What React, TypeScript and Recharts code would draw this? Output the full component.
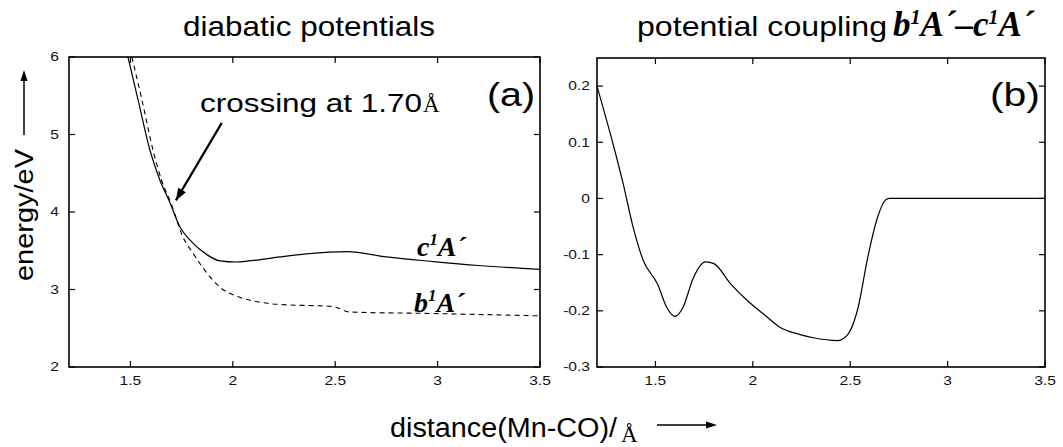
import React from 'react';
import { LineChart, Line, XAxis, YAxis, ReferenceLine } from 'recharts';

// Mn-CO distance (Å) and diabatic energies (eV)
const distTicks = [1.5, 2, 2.5, 3, 3.5];
const energyTicks = [2, 3, 4, 5, 6];
const couplingTicks = [-0.3, -0.2, -0.1, 0, 0.1, 0.2];

const cStateDist = [1.488, 1.537, 1.595, 1.644, 1.693, 1.741, 1.79, 1.873, 1.937, 2.02, 2.117, 2.23, 2.36, 2.56, 2.75, 2.98, 3.2, 3.5];
const cStateEnergy = [6.0, 5.45, 4.8, 4.41, 4.12, 3.81, 3.64, 3.45, 3.37, 3.355, 3.38, 3.42, 3.46, 3.49, 3.42, 3.36, 3.31, 3.26];

const bStateDist = [1.507, 1.556, 1.61, 1.652, 1.70, 1.756, 1.805, 1.854, 1.937, 2.034, 2.146, 2.278, 2.42, 2.49, 2.57, 2.98, 3.5];
const bStateEnergy = [6.0, 5.45, 4.8, 4.41, 4.1, 3.68, 3.47, 3.28, 3.03, 2.9, 2.83, 2.8, 2.79, 2.78, 2.71, 2.69, 2.66];

// b1A' - c1A' potential coupling (eV)
const couplingDist = [1.2, 1.28, 1.334, 1.386, 1.437, 1.51, 1.56, 1.6, 1.64, 1.695, 1.757, 1.8, 1.886, 1.973, 2.056, 2.143, 2.23, 2.31, 2.437, 2.49, 2.54, 2.59, 2.64, 2.68, 2.7, 3.5];
const couplingValue = [0.2, 0.1, 0.027, -0.052, -0.11, -0.152, -0.195, -0.21, -0.195, -0.141, -0.113, -0.116, -0.152, -0.182, -0.206, -0.23, -0.241, -0.248, -0.253, -0.241, -0.195, -0.105, -0.034, -0.003, 0, 0];

const cData = cStateDist.map((r, i) => ({ r, e: cStateEnergy[i] }));
const bData = bStateDist.map((r, i) => ({ r, e: bStateEnergy[i] }));
const couplingData = couplingDist.map((r, i) => ({ r, v: couplingValue[i] }));

const SANS = '"Liberation Sans", Arial, Helvetica, sans-serif';
const SERIF = '"Liberation Serif", "Times New Roman", serif';
const TICK_LEN = 6;
const X_DOMAIN = [1.2, 3.5];
const ENERGY_DOMAIN = [2, 6];
const COUPLING_DOMAIN = [-0.3, 0.25];

// plot boxes follow from the chart sizes/margins below
const LEFT_BOX = { x: 69, y: 57, w: 471, h: 310 };
const RIGHT_BOX = { x: 597, y: 58, w: 448, h: 309 };

const Tick = (props: any) => {
  const { x, y, payload, side } = props;
  return (
    <g transform={`translate(${x},${y}) scale(1.3,1)`}>
      <text
        x={0}
        y={0}
        textAnchor={side === 'left' ? 'end' : 'middle'}
        dominantBaseline="central"
        fontFamily={SANS}
        fontSize={12}
        fill="#111"
      >
        {payload.value}
      </text>
    </g>
  );
};

// boxed frame with inward ticks on all four sides
const Frame = ({ box, xd, yd, xTicks, yTicks }: any) => {
  const px = (v: number) => box.x + ((v - xd[0]) / (xd[1] - xd[0])) * box.w;
  const py = (v: number) => box.y + box.h - ((v - yd[0]) / (yd[1] - yd[0])) * box.h;
  return (
    <g stroke="#000" fill="none">
      <rect x={box.x} y={box.y} width={box.w} height={box.h} strokeWidth={1.6} />
      {xTicks.map((t: number) => (
        <g key={`x${t}`} strokeWidth={1.2}>
          <line x1={px(t)} y1={box.y} x2={px(t)} y2={box.y + TICK_LEN} />
          <line x1={px(t)} y1={box.y + box.h} x2={px(t)} y2={box.y + box.h - TICK_LEN} />
        </g>
      ))}
      {yTicks.map((t: number) => (
        <g key={`y${t}`} strokeWidth={1.2}>
          <line x1={box.x} y1={py(t)} x2={box.x + TICK_LEN} y2={py(t)} />
          <line x1={box.x + box.w} y1={py(t)} x2={box.x + box.w - TICK_LEN} y2={py(t)} />
        </g>
      ))}
    </g>
  );
};

const arrowHead = (x1: number, y1: number, x2: number, y2: number, len = 10, half = 4) => {
  const a = Math.atan2(y2 - y1, x2 - x1);
  const bx = x2 - len * Math.cos(a);
  const by = y2 - len * Math.sin(a);
  const px = -Math.sin(a) * half;
  const py = Math.cos(a) * half;
  return `${x2},${y2} ${bx + px},${by + py} ${bx - px},${by - py}`;
};

const ArrowShape = (props: any) => {
  const { x1, y1, x2, y2 } = props;
  return (
    <g>
      <line x1={x1} y1={y1} x2={x2} y2={y2} stroke="#000" strokeWidth={2.2} />
      <polygon points={arrowHead(x1, y1, x2, y2, 12, 4.5)} fill="#000" />
    </g>
  );
};

const PotentialsPanel = () => (
  <LineChart width={560} height={447} margin={{ top: 57, right: 20, bottom: 50, left: 29 }}>
    <XAxis
      type="number"
      dataKey="r"
      domain={X_DOMAIN}
      ticks={distTicks}
      allowDataOverflow
      height={30}
      axisLine={false}
      tickLine={false}
      tickSize={0}
      tickMargin={14}
      tick={<Tick side="bottom" />}
    />
    <YAxis
      type="number"
      domain={ENERGY_DOMAIN}
      ticks={energyTicks}
      allowDataOverflow
      width={40}
      axisLine={false}
      tickLine={false}
      tickSize={0}
      tickMargin={10}
      tick={<Tick side="left" />}
    />
    <Line
      data={cData}
      dataKey="e"
      type="monotone"
      stroke="#000"
      strokeWidth={1.2}
      dot={false}
      isAnimationActive={false}
    />
    <Line
      data={bData}
      dataKey="e"
      type="monotone"
      stroke="#000"
      strokeWidth={1.1}
      strokeDasharray="5 4"
      dot={false}
      isAnimationActive={false}
    />
    <ReferenceLine
      segment={[{ x: 1.946, y: 5.15 }, { x: 1.722, y: 4.15 }]}
      shape={ArrowShape}
    />
  </LineChart>
);

const CouplingPanel = () => (
  <LineChart width={523} height={447} margin={{ top: 58, right: 18, bottom: 50, left: 17 }}>
    <XAxis
      type="number"
      dataKey="r"
      domain={X_DOMAIN}
      ticks={distTicks}
      allowDataOverflow
      height={30}
      axisLine={false}
      tickLine={false}
      tickSize={0}
      tickMargin={14}
      tick={<Tick side="bottom" />}
    />
    <YAxis
      type="number"
      domain={COUPLING_DOMAIN}
      ticks={couplingTicks}
      allowDataOverflow
      width={40}
      axisLine={false}
      tickLine={false}
      tickSize={0}
      tickMargin={7}
      tick={<Tick side="left" />}
    />
    <Line
      data={couplingData}
      dataKey="v"
      type="monotone"
      stroke="#000"
      strokeWidth={1.2}
      dot={false}
      isAnimationActive={false}
    />
  </LineChart>
);

const StateLabel = ({ x, y, letter, size = 28 }: { x: number; y: number; letter: string; size?: number }) => (
  <text x={x} y={y} fontFamily={SERIF} fontWeight="bold" fontStyle="italic" fontSize={size} fill="#000">
    {letter}
    <tspan dy={-size * 0.38} fontSize={size * 0.6}>1</tspan>
    <tspan dy={size * 0.38}>A´</tspan>
  </text>
);

const Annotations = () => (
  <svg width={1063} height={447} style={{ position: 'absolute', left: 0, top: 0, pointerEvents: 'none' }}>
    <Frame box={LEFT_BOX} xd={X_DOMAIN} yd={ENERGY_DOMAIN} xTicks={distTicks} yTicks={energyTicks} />
    <Frame box={RIGHT_BOX} xd={X_DOMAIN} yd={COUPLING_DOMAIN} xTicks={distTicks} yTicks={couplingTicks} />

    <g fontFamily={SANS} fill="#000">
      <text x={183} y={36} fontSize={28} textLength={252} lengthAdjust="spacingAndGlyphs">
        diabatic potentials
      </text>
      <text x={637} y={36} fontSize={28} textLength={250} lengthAdjust="spacingAndGlyphs">
        potential coupling
      </text>
      <text x={200} y={112} fontSize={25} textLength={222} lengthAdjust="spacingAndGlyphs">
        crossing at 1.70
      </text>
      <text x={487} y={106} fontSize={34} textLength={48} lengthAdjust="spacingAndGlyphs">(a)</text>
      <text x={990} y={106} fontSize={34} textLength={50} lengthAdjust="spacingAndGlyphs">(b)</text>
      <text
        x={33}
        y={215}
        fontSize={25}
        textAnchor="middle"
        transform="rotate(-90 33 215)"
        textLength={132}
        lengthAdjust="spacingAndGlyphs"
      >
        energy/eV
      </text>
      <text x={390} y={437} fontSize={27} textLength={227} lengthAdjust="spacingAndGlyphs">
        distance(Mn-CO)/
      </text>
    </g>
    <text x={423} y={112} fontFamily={SERIF} fontSize={23} fill="#000">Å</text>
    <text x={621} y={442} fontFamily={SERIF} fontSize={23} fill="#000">Å</text>

    <line x1={24} y1={135} x2={24} y2={80} stroke="#000" strokeWidth={1.5} />
    <polygon points={arrowHead(24, 135, 24, 70, 11, 3.5)} fill="#000" />
    <line x1={657} y1={425} x2={708} y2={425} stroke="#000" strokeWidth={1.5} />
    <polygon points={arrowHead(657, 425, 717, 425, 11, 3.5)} fill="#000" />

    <StateLabel x={417} y={256} letter="c" />
    <StateLabel x={414} y={312} letter="b" />

    <text x={893} y={36} fontFamily={SERIF} fontWeight="bold" fontStyle="italic" fontSize={35} fill="#000">
      b<tspan dy={-12} fontSize={20}>1</tspan>
      <tspan dy={12}>A´–c</tspan>
      <tspan dy={-12} fontSize={20}>1</tspan>
      <tspan dy={12}>A´</tspan>
    </text>
  </svg>
);

const App = () => (
  <div style={{ position: 'absolute', left: 0, top: 0, width: 1063, height: 447, background: '#fff' }}>
    <div style={{ position: 'absolute', left: 0, top: 0 }}>
      <PotentialsPanel />
    </div>
    <div style={{ position: 'absolute', left: 540, top: 0 }}>
      <CouplingPanel />
    </div>
    <Annotations />
  </div>
);

export default App;
